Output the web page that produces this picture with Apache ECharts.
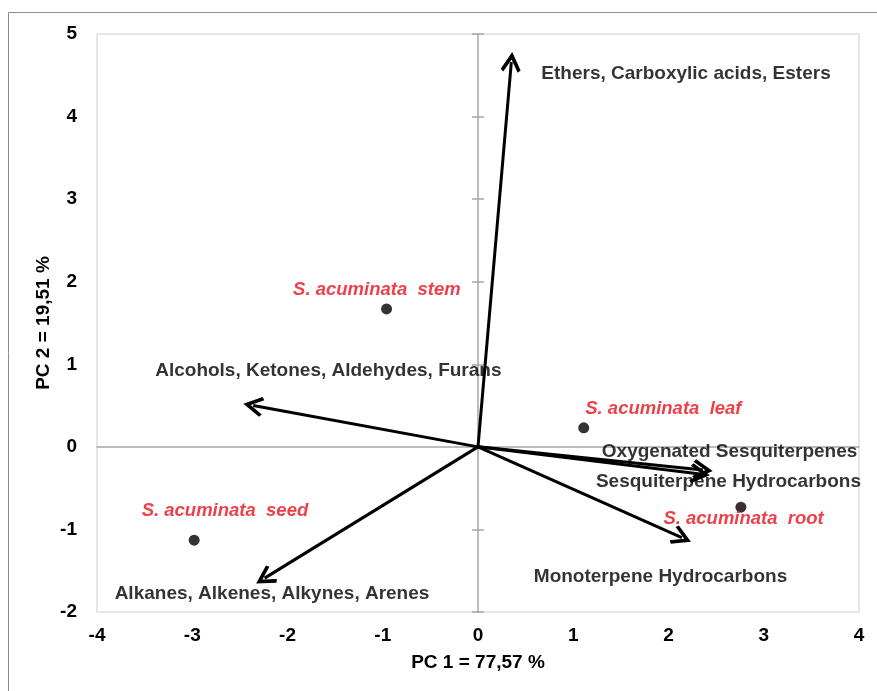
<!DOCTYPE html>
<html>
<head>
<meta charset="utf-8">
<script src="https://cdn.jsdelivr.net/npm/echarts@6/dist/echarts.min.js"></script>
<style>
  html, body { margin: 0; padding: 0; background: #fff; }
  #chart { width: 877px; height: 691px; }
</style>
</head>
<body>
<div id="chart"></div>
<script>
// PCA biplot: sample scores (points) and variable loadings (arrows)
const sampleNames = ['S. acuminata  stem', 'S. acuminata  leaf', 'S. acuminata  root', 'S. acuminata  seed'];
const samplePC1 = [-0.96, 1.11, 2.76, -2.98];
const samplePC2 = [1.67, 0.23, -0.73, -1.13];

const loadingNames = [
  'Ethers, Carboxylic acids, Esters',
  'Alcohols, Ketones, Aldehydes, Furans',
  'Alkanes, Alkenes, Alkynes, Arenes',
  'Oxygenated Sesquiterpenes',
  'Sesquiterpene Hydrocarbons',
  'Monoterpene Hydrocarbons'
];
const loadingPC1 = [0.35, -2.36, -2.24, 2.36, 2.33, 2.14];
const loadingPC2 = [4.66, 0.50, -1.59, -0.28, -0.33, -1.10];

const xTicks = [-4, -3, -2, -1, 0, 1, 2, 3, 4];
const yTicks = [-2, -1, 0, 1, 2, 3, 4, 5];

// label placement (pixel offsets from the top-left of each mark's symbol box)
const sampleLabelPos = [[-88, -14], [7, -13], [-72, 17], [-47, -24]];
const loadingLabelPos = [[30, 12], [-98, -35], [-150, 16], [-101, -18], [-104, 8], [-148, 39]];

const axisFont = "'Liberation Sans', Arial, sans-serif";
const textFont = "'Liberation Sans', Arial, sans-serif";
const axisGrey = '#a6a6a6';
const arrowHead = 'path://M5,0 L10,7.6 L8.6,8.6 L5,3.2 L1.4,8.6 L0,7.6 Z';

const xMin = xTicks[0], xMax = xTicks[xTicks.length - 1];
const yMin = yTicks[0], yMax = yTicks[yTicks.length - 1];

const tickLabel = {
  fontFamily: axisFont, fontWeight: 'bold', fontSize: 19, color: '#000'
};

const chart = echarts.init(document.getElementById('chart'), null, { renderer: 'canvas' });

const option = {
  backgroundColor: '#fff',
  animation: false,
  graphic: [{
    type: 'rect', left: 6, top: 10, z: -10,
    shape: { width: 900, height: 720 },
    style: { fill: 'none', stroke: '#8c8c8c', lineWidth: 1 }
  }],
  grid: {
    left: 97, right: 18, top: 34, bottom: 79,
    show: true, borderColor: '#cfcfcf', borderWidth: 1, backgroundColor: '#fff'
  },
  xAxis: [
    { // labels and title along the bottom edge
      type: 'value', min: xMin, max: xMax, interval: 1, position: 'bottom',
      axisLine: { show: false, onZero: false }, axisTick: { show: false },
      splitLine: { show: false },
      axisLabel: Object.assign({ margin: 14 }, tickLabel),
      name: 'PC 1 = 77,57 %', nameLocation: 'middle', nameGap: 41,
      nameTextStyle: { fontFamily: axisFont, fontWeight: 'bold', fontSize: 19, color: '#000' }
    },
    { // horizontal line through the origin
      type: 'value', min: xMin, max: xMax, interval: 1, position: 'bottom',
      axisLine: { show: true, onZero: true, lineStyle: { color: axisGrey, width: 1.5 } },
      axisTick: { show: false }, axisLabel: { show: false }, splitLine: { show: false }
    }
  ],
  yAxis: [
    { // labels and title along the left edge
      type: 'value', min: yMin, max: yMax, interval: 1, position: 'left',
      axisLine: { show: false, onZero: false }, axisTick: { show: false },
      splitLine: { show: false },
      axisLabel: Object.assign({ margin: 20 }, tickLabel),
      name: 'PC 2 = 19,51 %', nameLocation: 'middle', nameGap: 44, nameRotate: 90,
      nameMoveOverlap: false,
      nameTextStyle: { fontFamily: axisFont, fontWeight: 'bold', fontSize: 19, color: '#000' }
    },
    { // vertical line through the origin, ticks on the left side
      type: 'value', min: yMin, max: yMax, interval: 1, position: 'left',
      axisLine: { show: true, onZero: true, lineStyle: { color: axisGrey, width: 1.5 } },
      axisTick: { show: true, inside: false, length: 6, lineStyle: { color: axisGrey, width: 1.5 } },
      axisLabel: { show: false }, splitLine: { show: false }
    },
    { // ticks on the right side of the same line
      type: 'value', min: yMin, max: yMax, interval: 1, position: 'left',
      axisLine: { show: false, onZero: true },
      axisTick: { show: true, inside: true, length: 6, lineStyle: { color: axisGrey, width: 1.5 } },
      axisLabel: { show: false }, splitLine: { show: false }
    }
  ],
  series: [
    {
      name: 'loadings',
      type: 'lines',
      coordinateSystem: 'cartesian2d',
      xAxisIndex: 0, yAxisIndex: 0,
      z: 5,
      symbol: ['none', arrowHead],
      symbolSize: [24, 20],
      lineStyle: { color: '#000', width: 3, opacity: 1 },
      data: loadingNames.map((n, i) => ({
        name: n,
        coords: [[0, 0], [loadingPC1[i], loadingPC2[i]]]
      }))
    },
    {
      name: 'loading labels',
      type: 'scatter',
      xAxisIndex: 0, yAxisIndex: 0,
      symbolSize: 0,
      z: 6,
      silent: true,
      data: loadingNames.map((n, i) => ({
        name: n,
        value: [loadingPC1[i], loadingPC2[i]],
        label: {
          show: true, position: loadingLabelPos[i], align: 'left', verticalAlign: 'middle',
          formatter: n, fontFamily: textFont, fontWeight: 'bold', fontSize: 19, color: '#000'
        }
      }))
    },
    {
      name: 'samples',
      type: 'scatter',
      xAxisIndex: 0, yAxisIndex: 0,
      symbol: 'circle', symbolSize: 11,
      itemStyle: { color: '#000' },
      z: 7,
      data: sampleNames.map((n, i) => ({
        name: n,
        value: [samplePC1[i], samplePC2[i]],
        label: {
          show: true, position: sampleLabelPos[i], align: 'left', verticalAlign: 'middle',
          formatter: n, fontFamily: textFont, fontWeight: 'bold', fontStyle: 'italic',
          fontSize: 18.5, color: '#e8101a'
        }
      }))
    }
  ]
};

chart.setOption(option);
</script>
</body>
</html>
